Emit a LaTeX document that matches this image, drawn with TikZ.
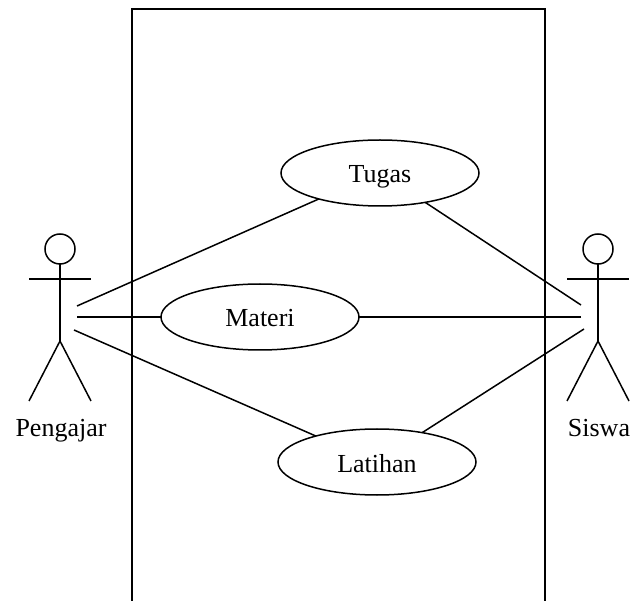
\documentclass[tikz,border=0pt]{standalone}
\usepackage{fontspec}
\setmainfont{Liberation Serif}
\usetikzlibrary{shapes,positioning}

\begin{document}
\begin{tikzpicture}[x=1pt,y=-1pt,line width=1.5pt]
  \tikzset{labelfont/.style={font=\fontsize{26}{30}\selectfont,text height=20pt,text depth=0pt}}
  \tikzset{usecase/.style={draw,ellipse,inner sep=0pt,outer sep=0pt,minimum width=198pt,minimum height=66pt,labelfont}}
  \tikzset{head/.style={draw,circle,inner sep=0pt,outer sep=0pt,minimum size=30pt}}
  \tikzset{actorname/.style={inner sep=0pt,labelfont}}
  \useasboundingbox (0,0) rectangle (632,601);
  % system boundary
  \draw (132,601) -- (132,9) -- (545,9) -- (545,601);
  % use cases
  \node[usecase] (tugas) at (380,173) {Tugas};
  \node[usecase] (materi) at (260,317) {Materi};
  \node[usecase] (latihan) at (377,462) {Latihan};
  % actors
  \foreach \actor/\x/\actorlabel in {pengajar/60/Pengajar,siswa/598/Siswa}{
    \node[head] (\actor) at (\x,249) {};
    \coordinate (\actor hip) at (\x,341);
    \draw (\actor.south) -- (\actor hip);
    \draw (\x-31,279) -- (\x+31,279);
    \draw (\x-31,401) -- (\actor hip) -- (\x+31,401);
    \node[actorname] (\actor name) at (\x+1,427) {\actorlabel};
  }
  % free ends beside the actors
  \coordinate (pengajarA) at (77,306);
  \coordinate (pengajarB) at (77,317);
  \coordinate (pengajarC) at (74,330);
  \coordinate (siswaA) at (581,305);
  \coordinate (siswaB) at (581,317);
  \coordinate (siswaC) at (584,329);
  \draw (pengajarA) -- (tugas.-157);
  \draw (pengajarB) -- (materi);
  \draw (pengajarC) -- (latihan.157);
  \draw (siswaA) -- (tugas.-33);
  \draw (siswaB) -- (materi);
  \draw (siswaC) -- (latihan.33);
\end{tikzpicture}
\end{document}
